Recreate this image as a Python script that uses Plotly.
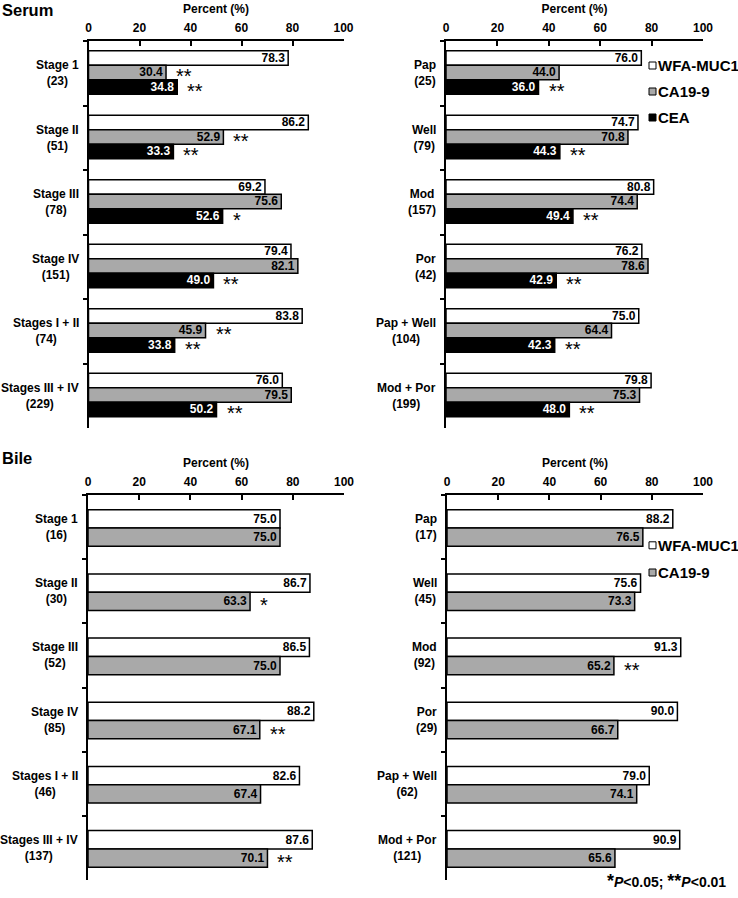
import plotly.graph_objects as go

W, H = 738, 898
FONT = "Arial, 'Liberation Sans', sans-serif"
GREY = "#a9a9a9"

# ---------------- data ----------------
series_names = ["WFA-MUC1", "CA19-9", "CEA"]

serum_stage_labels = ["Stage 1<br>(23)", "Stage II<br>(51)", "Stage III<br>(78)",
                      "Stage IV<br>(151)", "Stages I + II<br>(74)", "Stages III + IV<br>(229)"]
serum_stage_wfa = [78.3, 86.2, 69.2, 79.4, 83.8, 76.0]
serum_stage_ca = [30.4, 52.9, 75.6, 82.1, 45.9, 79.5]
serum_stage_cea = [34.8, 33.3, 52.6, 49.0, 33.8, 50.2]
serum_stage_ca_sig = ["**", "**", "", "", "**", ""]
serum_stage_cea_sig = ["**", "**", "*", "**", "**", "**"]

serum_hist_labels = ["Pap<br>(25)", "Well<br>(79)", "Mod<br>(157)", "Por<br>(42)",
                     "Pap + Well<br>(104)", "Mod + Por<br>(199)"]
serum_hist_wfa = [76.0, 74.7, 80.8, 76.2, 75.0, 79.8]
serum_hist_ca = [44.0, 70.8, 74.4, 78.6, 64.4, 75.3]
serum_hist_cea = [36.0, 44.3, 49.4, 42.9, 42.3, 48.0]
serum_hist_ca_sig = ["", "", "", "", "", ""]
serum_hist_cea_sig = ["**", "**", "**", "**", "**", "**"]

bile_stage_labels = ["Stage 1<br>(16)", "Stage II<br>(30)", "Stage III<br>(52)",
                     "Stage IV<br>(85)", "Stages I + II<br>(46)", "Stages III + IV<br>(137)"]
bile_stage_wfa = [75.0, 86.7, 86.5, 88.2, 82.6, 87.6]
bile_stage_ca = [75.0, 63.3, 75.0, 67.1, 67.4, 70.1]
bile_stage_ca_sig = ["", "*", "", "**", "", "**"]

bile_hist_labels = ["Pap<br>(17)", "Well<br>(45)", "Mod<br>(92)", "Por<br>(29)",
                    "Pap + Well<br>(62)", "Mod + Por<br>(121)"]
bile_hist_wfa = [88.2, 75.6, 91.3, 90.0, 79.0, 90.9]
bile_hist_ca = [76.5, 73.3, 65.2, 66.7, 74.1, 65.6]
bile_hist_ca_sig = ["", "", "**", "", "", ""]

x_ticks = [0, 20, 40, 60, 80, 100]

# ---------------- styles ----------------
fill_colors = ["white", GREY, "black"]
text_colors = ["black", "black", "white"]

serum_offsets = [-0.35, -0.125, 0.10]
serum_width = 0.225
bile_offsets = [-0.27, 0.015]
bile_width = 0.285

# legend item vertical centres (pixels from top)
serum_legend_rows = [65.5, 91.5, 117.5]
bile_legend_rows = [545.3, 572.5]

fig = go.Figure()
annotations = []
shapes = []


def px_x(p):
    return p / W


def px_y(p):
    return 1 - p / H


def add_panel(ax, labels, values_list, sig_list, offsets, width):
    xa = "x" if ax == 1 else f"x{ax}"
    ya = "y" if ax == 1 else f"y{ax}"
    for k, vals in enumerate(values_list):
        fig.add_trace(go.Bar(
            x=vals, y=labels, orientation="h", xaxis=xa, yaxis=ya,
            name=series_names[k],
            offset=offsets[k], width=width,
            marker=dict(color=fill_colors[k], line=dict(color="black", width=1.5)),
            text=[f"{v:.1f}" for v in vals],
            textposition="inside", insidetextanchor="end",
            textfont=dict(family=FONT, size=12, color=text_colors[k], weight="bold"),
            showlegend=False,
            hoverinfo="skip",
        ))
        sigs = sig_list[k]
        if sigs is None:
            continue
        for i, s in enumerate(sigs):
            if s:
                annotations.append(dict(
                    x=vals[i], y=i + offsets[k] + width / 2, xref=xa, yref=ya,
                    text=s, showarrow=False, xanchor="left", yanchor="middle",
                    xshift=8, yshift=-4,
                    font=dict(family=FONT, size=20, color="black"),
                ))
    for i, lab in enumerate(labels):
        annotations.append(dict(
            x=0, y=i, xref=f"{xa} domain", yref=ya, text=f"<b>{lab}</b>",
            showarrow=False, xanchor="right", yanchor="middle", align="center",
            xshift=-8, font=dict(family=FONT, size=12, color="black"),
        ))


def add_legend(rows):
    for k, yc in enumerate(rows):
        shapes.append(dict(type="rect", xref="paper", yref="paper",
                           x0=px_x(649), x1=px_x(656), y0=px_y(yc + 3.5), y1=px_y(yc - 3.5),
                           fillcolor=fill_colors[k], line=dict(color="black", width=1)))
        annotations.append(dict(x=px_x(656), y=px_y(yc), xref="paper", yref="paper",
                                text=f"<b>{series_names[k]}</b>", showarrow=False,
                                xanchor="left", yanchor="middle",
                                font=dict(family=FONT, size=15, color="black")))


add_panel(1, serum_stage_labels, [serum_stage_wfa, serum_stage_ca, serum_stage_cea],
          [None, serum_stage_ca_sig, serum_stage_cea_sig], serum_offsets, serum_width)
add_panel(2, serum_hist_labels, [serum_hist_wfa, serum_hist_ca, serum_hist_cea],
          [None, serum_hist_ca_sig, serum_hist_cea_sig], serum_offsets, serum_width)
add_panel(3, bile_stage_labels, [bile_stage_wfa, bile_stage_ca],
          [None, bile_stage_ca_sig], bile_offsets, bile_width)
add_panel(4, bile_hist_labels, [bile_hist_wfa, bile_hist_ca],
          [None, bile_hist_ca_sig], bile_offsets, bile_width)
add_legend(serum_legend_rows)
add_legend(bile_legend_rows)

x_domains = {1: [88.5, 343.5], 2: [446, 703], 3: [88, 344], 4: [447, 703]}
y_domains = {1: [41, 428], 2: [41, 428], 3: [495, 880], 4: [495, 880]}

layout_axes = {}
for ax in range(1, 5):
    xn = "xaxis" if ax == 1 else f"xaxis{ax}"
    yn = "yaxis" if ax == 1 else f"yaxis{ax}"
    ya = "y" if ax == 1 else f"y{ax}"
    xa = "x" if ax == 1 else f"x{ax}"
    layout_axes[xn] = dict(
        domain=[px_x(x_domains[ax][0]), px_x(x_domains[ax][1])],
        anchor=ya, side="top", range=[0, 100], tickvals=x_ticks,
        ticks="inside", ticklen=5, tickwidth=2, tickcolor="black",
        showline=True, linewidth=2, linecolor="black", showgrid=False, zeroline=False,
        tickfont=dict(family=FONT, size=12, color="black", weight="bold"),
        ticklabelstandoff=2, automargin=False,
        title=dict(text="Percent (%)", font=dict(family=FONT, size=12, color="black", weight="bold"),
                   standoff=5),
        fixedrange=True,
    )
    layout_axes[yn] = dict(
        domain=[px_y(y_domains[ax][1]), px_y(y_domains[ax][0])],
        anchor=xa, type="category", range=[5.5, -0.5],
        tickson="boundaries", ticks="outside", ticklen=4, tickwidth=2, tickcolor="black",
        showticklabels=False, showline=True, linewidth=2, linecolor="black",
        showgrid=False, zeroline=False, fixedrange=True, automargin=False,
    )

annotations.append(dict(x=px_x(1), y=px_y(10), xref="paper", yref="paper", text="<b>Serum</b>",
                        showarrow=False, xanchor="left", yanchor="middle", borderpad=0,
                        font=dict(family=FONT, size=16.5, color="black")))
annotations.append(dict(x=px_x(1), y=px_y(458), xref="paper", yref="paper", text="<b>Bile</b>",
                        showarrow=False, xanchor="left", yanchor="middle", borderpad=0,
                        font=dict(family=FONT, size=16.5, color="black")))
annotations.append(dict(x=px_x(728), y=px_y(881), xref="paper", yref="paper",
                        text="<b><span style='font-size:18px'>*</span><i>P</i>&lt;0.05; "
                             "<span style='font-size:18px'>**</span><i>P</i>&lt;0.01</b>",
                        showarrow=False, xanchor="right", yanchor="middle",
                        font=dict(family=FONT, size=14, color="black")))

fig.update_layout(
    width=W, height=H, margin=dict(l=0, r=0, t=0, b=0),
    paper_bgcolor="white", plot_bgcolor="white",
    barmode="overlay", showlegend=False,
    uniformtext=dict(minsize=12, mode="show"),
    annotations=annotations, shapes=shapes,
    **layout_axes,
)

fig.write_html("out.html", config={"displayModeBar": False},
               post_script="document.body.style.margin='0';document.body.style.overflow='hidden';")
